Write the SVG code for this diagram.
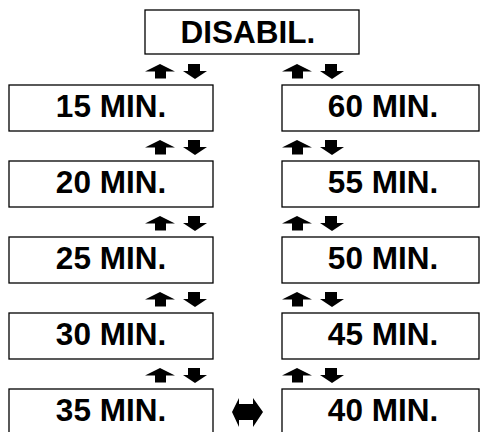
<svg xmlns="http://www.w3.org/2000/svg" xmlns:xlink="http://www.w3.org/1999/xlink" width="481" height="432" viewBox="0 0 481 432">
<style>
.box{fill:#fff;stroke:#000;stroke-width:1.3}
.t{font-family:"Liberation Sans",Arial,sans-serif;font-weight:bold;font-size:31.5px;fill:#000;text-anchor:middle}
.ar{fill:#000}
</style>
<defs>
<path id="up" class="ar" d="M0,7.5 L15,0 L30,7.5 L21,7.5 L21,14.5 L10,14.5 L10,7.5 Z"/>
<path id="dn" class="ar" d="M5,0 L17,0 L17,7 L24,7 L12,15 L0,7 L5,7 Z"/>
<g id="pair"><use xlink:href="#up" x="0" y="0"/><use xlink:href="#dn" x="38" y="0"/></g>
</defs>
<rect width="481" height="432" fill="#fff"/>
<g id="n-disabil"><rect class="box" x="145" y="10" width="214" height="44"/><text class="t" x="248" y="43">DISABIL.</text></g>
<g id="n-15"><rect class="box" x="9" y="85" width="204" height="46"/><text class="t" x="111" y="117">15 MIN.</text></g>
<g id="n-20"><rect class="box" x="9" y="161" width="204" height="46"/><text class="t" x="111" y="193">20 MIN.</text></g>
<g id="n-25"><rect class="box" x="9" y="237" width="204" height="46"/><text class="t" x="111" y="269">25 MIN.</text></g>
<g id="n-30"><rect class="box" x="9" y="313" width="204" height="46"/><text class="t" x="111" y="345">30 MIN.</text></g>
<g id="n-35"><rect class="box" x="9" y="389" width="204" height="50"/><text class="t" x="111" y="421">35 MIN.</text></g>
<g id="n-60"><rect class="box" x="282" y="85" width="197" height="46"/><text class="t" x="383" y="117">60 MIN.</text></g>
<g id="n-55"><rect class="box" x="282" y="161" width="197" height="46"/><text class="t" x="383" y="193">55 MIN.</text></g>
<g id="n-50"><rect class="box" x="282" y="237" width="197" height="46"/><text class="t" x="383" y="269">50 MIN.</text></g>
<g id="n-45"><rect class="box" x="282" y="313" width="197" height="46"/><text class="t" x="383" y="345">45 MIN.</text></g>
<g id="n-40"><rect class="box" x="282" y="389" width="197" height="50"/><text class="t" x="383" y="421">40 MIN.</text></g>
<g id="connectors">
<use xlink:href="#pair" x="145" y="64"/>
<use xlink:href="#pair" x="145" y="140"/>
<use xlink:href="#pair" x="145" y="216"/>
<use xlink:href="#pair" x="145" y="292"/>
<use xlink:href="#pair" x="145" y="368"/>
<use xlink:href="#pair" x="282" y="64"/>
<use xlink:href="#pair" x="282" y="140"/>
<use xlink:href="#pair" x="282" y="216"/>
<use xlink:href="#pair" x="282" y="292"/>
<use xlink:href="#pair" x="282" y="368"/>
<path class="ar" d="M232,412 L239,398 L239,404 L253,404 L253,398 L263,412 L253,427 L253,420 L239,420 L239,427 Z"/>
</g>
</svg>
